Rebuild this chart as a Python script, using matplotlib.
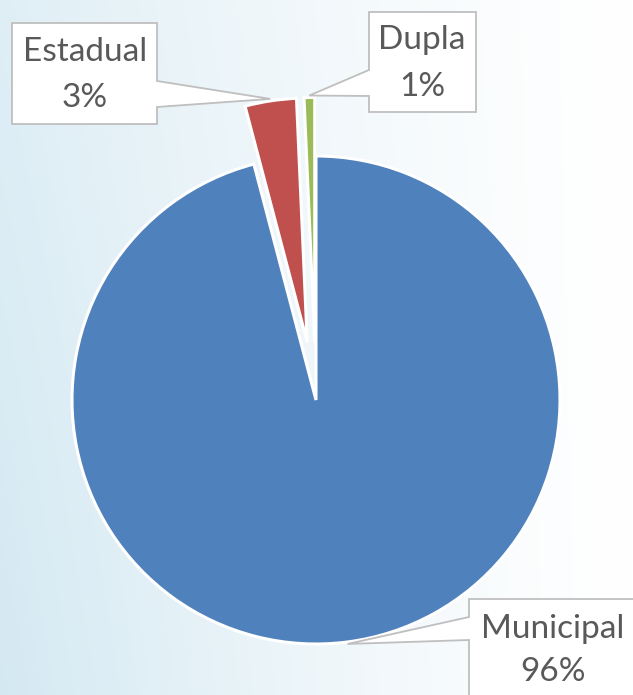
import numpy as np
import matplotlib
matplotlib.use("Agg")
import matplotlib.pyplot as plt
from matplotlib.patches import Polygon

# data
labels = ["Municipal", "Estadual", "Dupla"]
values = [95.9, 3.4, 0.7]
colors = ["#4f81bd", "#c0504d", "#9bbb59"]
explode = [0.0, 0.24, 0.24]  # fraction of the radius

W, H = 633, 695
text_color = "#595959"
box_edge = "#bfbfbf"

fig = plt.figure(figsize=(W / 100, H / 100), dpi=100)

# soft blue background fading to white on the right
bg = fig.add_axes([0, 0, 1, 1])
xn = np.linspace(0, 1, 300)[None, :]
yn = np.linspace(0, 1, 300)[:, None]
s = np.clip(1 - xn, 0, 1) ** 1.3 * (0.72 + 0.25 * yn)
base = np.array([211, 232, 242]) / 255.0
grad = 1 - s[..., None] * (1 - base)
bg.imshow(grad, aspect="auto", extent=(0, 1, 0, 1), origin="upper")
bg.axis("off")

ax = fig.add_axes([0, 0, 1, 1])
ax.patch.set_alpha(0)

cx, cy, r = 316, H - 400, 244
wedges, _ = ax.pie(
    values,
    colors=colors,
    explode=[e * r for e in explode],  # pie takes explode in data units
    startangle=90,
    counterclock=False,
    center=(cx, cy),
    radius=r,
    wedgeprops={"edgecolor": "white", "linewidth": 2.2},
    frame=False,
)
ax.set_xlim(0, W)
ax.set_ylim(0, H)
ax.set_aspect("equal")
ax.axis("off")


def wedge_tip(w, extra=2):
    th = np.radians((w.theta1 + w.theta2) / 2)
    x, y = w.center
    return x + (w.r + extra) * np.cos(th), y + (w.r + extra) * np.sin(th)


def callout(box, side, attach, tip):
    # box and attach given in pixel rows from the top
    x0, y0, x1, y1 = box
    a0, a1 = attach
    f = lambda y: H - y
    tx, ty = tip
    if side == "right":
        pts = [(x0, f(y0)), (x1, f(y0)), (x1, f(a0)), (tx, ty),
               (x1, f(a1)), (x1, f(y1)), (x0, f(y1))]
    else:
        pts = [(x0, f(y0)), (x1, f(y0)), (x1, f(y1)), (x0, f(y1)),
               (x0, f(a1)), (tx, ty), (x0, f(a0))]
    ax.add_patch(Polygon(pts, closed=True, facecolor="white",
                         edgecolor=box_edge, linewidth=1.3, zorder=3))


total = sum(values)
layout = {
    "Estadual": ((12, 23, 157, 124), "right", (81, 107)),
    "Dupla": ((369, 12, 476, 112), "left", (70, 96)),
    "Municipal": ((469, 599, 640, 710), "left", (617, 640)),
}
# (x, y of first line, y of second line) in pixel rows from the top
text_pos = {"Estadual": (85, 52, 98), "Dupla": (422, 40, 87), "Municipal": (553, 629, 672)}

for w, lab, v in zip(wedges, labels, values):
    box, side, attach = layout[lab]
    callout(box, side, attach, wedge_tip(w))
    tx, y1, y2 = text_pos[lab]
    ax.text(tx, H - y1, lab, ha="center", va="center",
            fontsize=24, family="Lato", color=text_color, zorder=4)
    ax.text(tx, H - y2, f"{v / total * 100:.0f}%", ha="center", va="center",
            fontsize=24, family="Lato", color=text_color, zorder=4)

fig.savefig("out.png", dpi=100)
